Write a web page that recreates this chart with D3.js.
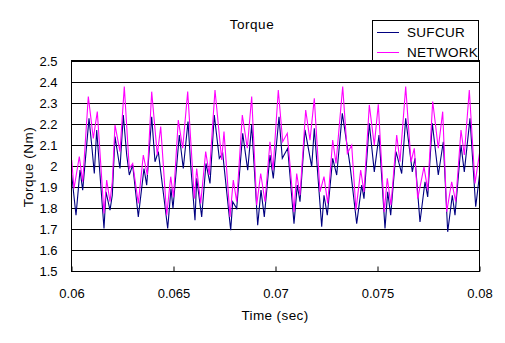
<!DOCTYPE html>
<html>
<head>
<meta charset="utf-8">
<script src="https://cdn.jsdelivr.net/npm/d3@7"></script>
<style>
  html, body { margin: 0; padding: 0; background: #fff; }
  svg text { font-family: "Liberation Sans", Arial, sans-serif; fill: #000; }
</style>
</head>
<body>
<svg id="chart" width="505" height="343"></svg>
<script>
// ---- data ----
const yTicks = [1.5, 1.6, 1.7, 1.8, 1.9, 2.0, 2.1, 2.2, 2.3, 2.4, 2.5];
const xTicks = [0.06, 0.065, 0.07, 0.075, 0.08];
const xTickLabels = ["0.06", "0.065", "0.07", "0.075", "0.08"];
const seriesNames = ["SUFCUR", "NETWORK"];

// times in milliseconds
const timeSufcur = [60.010,60.221,60.417,60.549,60.858,61.005,61.118,61.235,61.593,61.691,61.887,62.000,62.132,62.377,62.539,62.706,62.833,63.000,63.275,63.554,63.686,63.931,64.093,64.255,64.716,64.877,64.975,65.284,65.480,65.711,65.843,66.054,66.137,66.382,66.593,66.789,67.000,67.245,67.412,67.804,67.902,68.098,68.392,68.637,68.833,69.127,69.289,69.451,69.730,69.892,70.172,70.333,70.598,70.907,71.069,71.201,71.446,71.775,71.902,72.265,72.377,72.539,72.804,73.000,73.275,73.652,73.980,74.225,74.338,74.598,74.843,75.074,75.368,75.500,75.647,75.907,76.186,76.382,76.706,76.838,77.083,77.328,77.461,77.686,77.980,78.225,78.441,78.667,78.799,79.093,79.255,79.534,79.814,80.000];
const sufcur = [1.956,1.765,1.979,1.884,2.225,2.083,1.963,2.170,1.702,1.876,1.789,1.860,2.138,1.987,2.241,2.051,1.956,2.003,1.757,1.987,1.908,2.233,2.019,2.067,1.702,1.892,1.797,2.146,1.987,2.210,2.003,1.741,1.940,1.757,2.011,1.916,2.241,2.035,2.059,1.694,1.829,1.797,2.154,1.979,2.194,1.717,1.884,1.757,2.051,1.940,2.233,2.035,2.083,1.725,1.908,1.829,2.170,1.995,2.178,1.710,1.860,1.765,2.035,1.956,2.249,2.003,1.725,1.908,1.844,2.202,1.971,2.146,1.702,1.876,1.765,2.067,1.963,2.225,1.971,2.035,1.733,1.924,1.852,2.202,1.956,2.114,1.686,1.860,1.765,2.098,1.971,2.225,1.805,1.956];

const timeNetwork = [60.010,60.123,60.382,60.549,60.824,61.069,61.265,61.593,61.725,61.887,62.000,62.132,62.377,62.588,62.833,63.000,63.275,63.520,63.716,63.931,64.206,64.373,64.667,64.863,65.000,65.235,65.451,65.696,66.020,66.137,66.333,66.578,66.755,67.034,67.363,67.475,67.770,67.931,68.098,68.373,68.618,68.833,69.078,69.275,69.485,69.730,69.877,70.137,70.353,70.578,70.907,71.039,71.201,71.480,71.691,71.902,72.181,72.377,72.559,72.804,72.966,73.294,73.520,73.735,73.946,74.176,74.338,74.598,74.843,75.039,75.333,75.480,75.662,75.941,76.103,76.382,76.642,76.804,76.971,77.279,77.461,77.706,77.980,78.196,78.392,78.637,78.833,79.093,79.255,79.500,79.779,80.000];
const network = [2.027,1.892,2.043,1.924,2.329,2.130,2.257,1.773,1.932,1.829,1.924,2.194,2.067,2.376,1.987,2.011,1.821,2.051,1.956,2.352,2.051,2.186,1.765,1.948,1.850,2.217,2.083,2.352,1.844,1.987,1.821,2.067,1.956,2.360,2.027,2.162,1.757,1.932,1.829,2.241,2.083,2.329,1.813,1.963,1.829,2.114,1.979,2.360,2.114,2.154,1.781,1.963,1.860,2.265,2.122,2.320,1.876,1.948,1.821,2.122,2.011,2.376,2.059,2.098,1.789,1.979,1.876,2.289,2.098,2.292,1.781,1.940,1.813,2.146,2.019,2.376,2.019,2.083,1.844,1.995,1.884,2.305,2.083,2.257,1.781,1.924,1.829,2.170,2.051,2.360,1.916,2.059];

// ---- drawing ----
const svg = d3.select("#chart");
const margin = { left: 71.5, right: 479.5, top: 60.5, bottom: 271 };

const x = d3.scaleLinear().domain([0.06, 0.08]).range([margin.left, margin.right]);
const y = d3.scaleLinear().domain([1.5, 2.5]).range([margin.bottom, margin.top]);

// horizontal gridlines
svg.append("g").selectAll("line").data(yTicks).join("line")
  .attr("x1", margin.left).attr("x2", margin.right)
  .attr("y1", d => Math.round(y(d)) + 0.5).attr("y2", d => Math.round(y(d)) + 0.5)
  .attr("stroke", "#000").attr("stroke-width", 1);

// y axis labels
const yAxis = d3.axisLeft(y).tickValues(yTicks).tickSize(0).tickPadding(14)
  .tickFormat(d => d3.format("")(+d.toFixed(1)));
const gy = svg.append("g").attr("transform", `translate(${margin.left},0)`).call(yAxis);
gy.select(".domain").remove();
gy.selectAll("text").attr("font-size", 13).attr("font-family", "Liberation Sans, Arial, sans-serif")
  .attr("fill", "#000").attr("dy", "0.35em");

// x axis (inner ticks pointing up)
const xAxis = d3.axisBottom(x).tickValues(xTicks).tickSize(-5).tickPadding(17)
  .tickFormat((d, i) => xTickLabels[i]);
const gx = svg.append("g").attr("transform", `translate(0,${margin.bottom + 0.5})`).call(xAxis);
gx.select(".domain").remove();
gx.selectAll(".tick line").attr("stroke", "#000");
gx.selectAll("text").attr("font-size", 13).attr("font-family", "Liberation Sans, Arial, sans-serif")
  .attr("fill", "#000");

// series lines
svg.append("clipPath").attr("id", "plotclip").append("rect")
  .attr("x", margin.left).attr("y", margin.top)
  .attr("width", margin.right - margin.left).attr("height", margin.bottom - margin.top);

const lineGen = d3.line().x(d => x(d[0] / 1000)).y(d => y(d[1]));
const sufData = timeSufcur.map((t, i) => [t, sufcur[i]]);
const netData = timeNetwork.map((t, i) => [t, network[i]]);

const gLines = svg.append("g").attr("clip-path", "url(#plotclip)");
gLines.append("path").datum(sufData).attr("d", lineGen)
  .attr("fill", "none").attr("stroke", "#000080").attr("stroke-width", 1.1);
gLines.append("path").datum(netData).attr("d", lineGen)
  .attr("fill", "none").attr("stroke", "#FF00FF").attr("stroke-width", 1.1);

// plot border
svg.append("rect")
  .attr("x", margin.left).attr("y", margin.top)
  .attr("width", margin.right - margin.left).attr("height", margin.bottom - margin.top + 0.5)
  .attr("fill", "none").attr("stroke", "#000").attr("stroke-width", 1);

// title
svg.append("text").attr("x", 252).attr("y", 29).attr("text-anchor", "middle")
  .attr("font-size", 13.5).attr("letter-spacing", "0.5px").text("Torque");

// axis titles
svg.append("text").attr("x", 275).attr("y", 320).attr("text-anchor", "middle")
  .attr("font-size", 13.5).attr("letter-spacing", "0.4px").text("Time (sec)");
svg.append("text").attr("transform", "translate(33,167) rotate(-90)").attr("text-anchor", "middle")
  .attr("font-size", 13.5).attr("letter-spacing", "0.5px").text("Torque (Nm)");

// legend
const legend = svg.append("g");
legend.append("rect").attr("x", 372.5).attr("y", 20.5).attr("width", 106).attr("height", 40)
  .attr("fill", "#fff").attr("stroke", "#000").attr("stroke-width", 1);
const legColors = ["#000080", "#FF00FF"];
const legY = [32, 52];
seriesNames.forEach((name, i) => {
  legend.append("line").attr("x1", 377).attr("x2", 399)
    .attr("y1", legY[i] + 0.5).attr("y2", legY[i] + 0.5)
    .attr("stroke", legColors[i]).attr("stroke-width", 1);
  legend.append("text").attr("x", 407).attr("y", legY[i]).attr("dy", "0.35em")
    .attr("font-size", 13.5).attr("letter-spacing", "0.3px").text(name);
});
</script>
</body>
</html>
